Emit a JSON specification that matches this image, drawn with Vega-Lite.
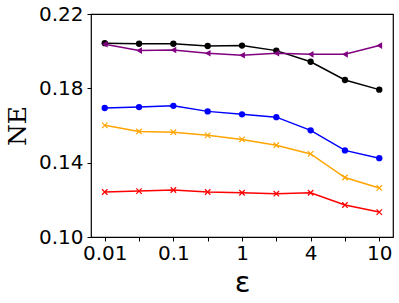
{
  "$schema": "https://vega.github.io/schema/vega-lite/v6.json",
  "width": 302,
  "height": 223,
  "autosize": "none",
  "padding": {"left": 91, "top": 14, "right": 6, "bottom": 66},
  "background": "white",
  "config": {"view": {"stroke": "black", "strokeWidth": 1.2}},
  "data": {"values": [
    {"i":0,"s":"black","v":0.2043},{"i":1,"s":"black","v":0.2040},{"i":2,"s":"black","v":0.2040},{"i":3,"s":"black","v":0.2028},{"i":4,"s":"black","v":0.2030},{"i":5,"s":"black","v":0.2003},{"i":6,"s":"black","v":0.1943},{"i":7,"s":"black","v":0.1845},{"i":8,"s":"black","v":0.1793},
    {"i":0,"s":"purple","v":0.2037},{"i":1,"s":"purple","v":0.2003},{"i":2,"s":"purple","v":0.2006},{"i":3,"s":"purple","v":0.1989},{"i":4,"s":"purple","v":0.1978},{"i":5,"s":"purple","v":0.1989},{"i":6,"s":"purple","v":0.1983},{"i":7,"s":"purple","v":0.1983},{"i":8,"s":"purple","v":0.2030},
    {"i":0,"s":"blue","v":0.1694},{"i":1,"s":"blue","v":0.1699},{"i":2,"s":"blue","v":0.1706},{"i":3,"s":"blue","v":0.1676},{"i":4,"s":"blue","v":0.1660},{"i":5,"s":"blue","v":0.1645},{"i":6,"s":"blue","v":0.1574},{"i":7,"s":"blue","v":0.1466},{"i":8,"s":"blue","v":0.1424},
    {"i":0,"s":"orange","v":0.1601},{"i":1,"s":"orange","v":0.1568},{"i":2,"s":"orange","v":0.1564},{"i":3,"s":"orange","v":0.1547},{"i":4,"s":"orange","v":0.1525},{"i":5,"s":"orange","v":0.1494},{"i":6,"s":"orange","v":0.1447},{"i":7,"s":"orange","v":0.1320},{"i":8,"s":"orange","v":0.1264},
    {"i":0,"s":"red","v":0.1242},{"i":1,"s":"red","v":0.1247},{"i":2,"s":"red","v":0.1253},{"i":3,"s":"red","v":0.1242},{"i":4,"s":"red","v":0.1238},{"i":5,"s":"red","v":0.1233},{"i":6,"s":"red","v":0.1238},{"i":7,"s":"red","v":0.1172},{"i":8,"s":"red","v":0.1134}
  ]},
  "encoding": {
    "x": {"field": "i", "type": "quantitative",
      "scale": {"domain": [-0.4, 8.4], "nice": false, "zero": false},
      "axis": {"values": [0,1,2,3,4,5,6,7,8], "labelExpr": "datum.value==0?'0.01':datum.value==2?'0.1':datum.value==4?'1':datum.value==6?'4':datum.value==8?'10':''",
        "grid": false, "domain": false, "tickColor": "black", "tickSize": 4, "labelFont": "DejaVu Sans", "labelFontSize": 20, "labelColor": "black", "labelPadding": 2, "labelOverlap": false, "labelFlush": false,
        "title": "ε", "titleFont": "DejaVu Sans", "titleFontSize": 29, "titleFontWeight": "normal", "titleColor": "black", "titlePadding": 5}},
    "y": {"field": "v", "type": "quantitative",
      "scale": {"domain": [0.10, 0.22], "nice": false, "zero": false},
      "axis": {"values": [0.10, 0.14, 0.18, 0.22], "format": ".2f",
        "grid": false, "domain": false, "tickColor": "black", "tickSize": 4, "labelFont": "DejaVu Sans", "labelFontSize": 20, "labelColor": "black", "labelPadding": 4, "labelOverlap": false, "labelFlush": false,
        "title": "NE", "titleFont": "DejaVu Serif", "titleFontSize": 25, "titleFontWeight": "normal", "titleColor": "black", "titlePadding": 8}},
    "color": {"field": "s", "type": "nominal", "legend": null,
      "scale": {"domain": ["black","purple","blue","orange","red"], "range": ["black","purple","blue","orange","red"]}}
  },
  "layer": [
    {"mark": {"type": "line", "strokeWidth": 1.5}, "encoding": {"detail": {"field": "s"}}},
    {"transform": [{"filter": "datum.s=='black'||datum.s=='blue'"}],
     "mark": {"type": "point", "shape": "circle", "filled": true, "size": 40, "opacity": 1}},
    {"transform": [{"filter": "datum.s=='purple'"}],
     "mark": {"type": "point", "shape": "triangle-left", "filled": true, "size": 44, "opacity": 1}},
    {"transform": [{"filter": "datum.s=='orange'||datum.s=='red'"}],
     "mark": {"type": "point", "shape": "M-1,-1L1,1M-1,1L1,-1", "filled": false, "size": 30, "strokeWidth": 1.2, "opacity": 1}}
  ]
}
